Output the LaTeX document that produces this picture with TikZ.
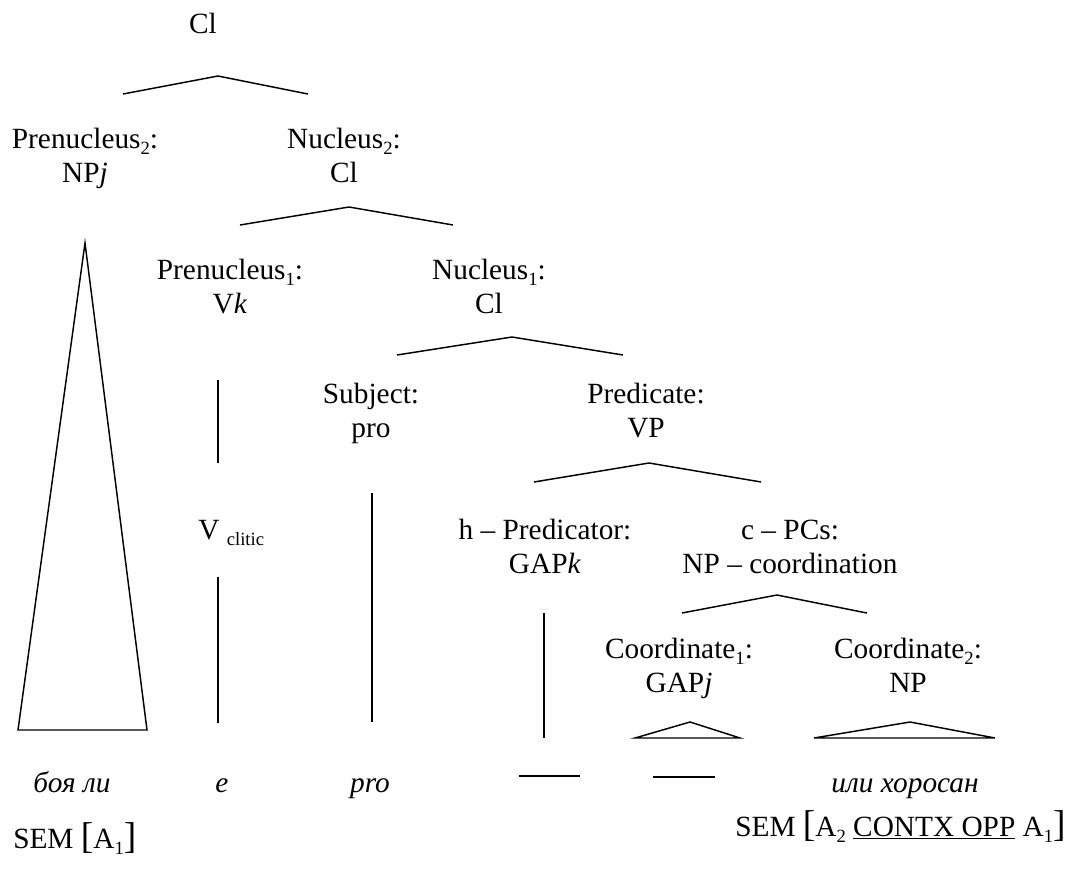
\documentclass[tikz,border=0pt]{standalone}
\usepackage{fontspec}
\setmainfont{Liberation Serif}
\newcommand\lsub[1]{\raisebox{-0.22em}{\fontsize{14}{14}\selectfont #1}}
\newcommand\bigbr[1]{{\fontsize{28}{28}\selectfont #1}}
\begin{document}
\begin{tikzpicture}[x=0.75pt,y=-0.75pt,
  lbl/.style={anchor=base,inner sep=0pt,font=\fontsize{22}{26}\selectfont},
  word/.style={lbl,font=\fontsize{22}{26}\selectfont\itshape},
  edge/.style={line width=1.1pt,line join=miter}]
\useasboundingbox (0,0) rectangle (1072,879);

% labels
\node[lbl] (cl0) at (203,33) {Cl};
\node[lbl] (pn2) at (85,148) {Prenucleus\lsub{2}:};
\node[lbl] (pn2c) at (85,182) {NP\textit{j}};
\node[lbl] (nu2) at (344,148) {Nucleus\lsub{2}:};
\node[lbl] (nu2c) at (344,182) {Cl};
\node[lbl] (pn1) at (230,279) {Prenucleus\lsub{1}:};
\node[lbl] (pn1c) at (230,313) {V\textit{k}};
\node[lbl] (nu1) at (489,279) {Nucleus\lsub{1}:};
\node[lbl] (nu1c) at (489,313) {Cl};
\node[lbl] (subj) at (371,403) {Subject:};
\node[lbl] (subjc) at (371,437) {pro};
\node[lbl] (pred) at (646,403) {Predicate:};
\node[lbl] (predc) at (646,437) {VP};
\node[lbl,anchor=base west] (vcl) at (198,539) {V \lsub{clitic}};
\node[lbl] (hpr) at (545,539) {h -- Predicator:};
\node[lbl] (hprc) at (545,573) {GAP\textit{k}};
\node[lbl] (cpc) at (790,539) {c -- PCs:};
\node[lbl] (cpcc) at (790,573) {NP -- coordination};
\node[lbl] (co1) at (679,658) {Coordinate\lsub{1}:};
\node[lbl] (co1c) at (679,692) {GAP\textit{j}};
\node[lbl] (co2) at (908,658) {Coordinate\lsub{2}:};
\node[lbl] (co2c) at (908,692) {NP};

% words
\node[word] (w1) at (72,792) {боя ли};
\node[word] (w2) at (222,792) {e};
\node[word] (w3) at (370,792) {pro};
\node[word] (w4) at (905,792) {или хоросан};

% semantics
\node[lbl,anchor=base west] (sem1) at (13,848) {SEM \bigbr{[}A\lsub{1}\bigbr{]}};
\node[lbl,anchor=base west] (sem2) at (735,836) {SEM \bigbr{[}A\lsub{2} \underline{CONTX OPP} A\lsub{1}\bigbr{]}};

% branch coordinates
\coordinate (a1l) at (123,94);  \coordinate (a1) at (218,76);  \coordinate (a1r) at (308,94);
\coordinate (a2l) at (240,225); \coordinate (a2) at (349,207); \coordinate (a2r) at (453,225);
\coordinate (a3l) at (397,355); \coordinate (a3) at (512,337); \coordinate (a3r) at (623,355);
\coordinate (a4l) at (534,482); \coordinate (a4) at (649,463); \coordinate (a4r) at (761,482);
\coordinate (a5l) at (682,613); \coordinate (a5) at (777,595); \coordinate (a5r) at (867,613);
\draw[edge] (a1l) -- (a1) -- (a1r);
\draw[edge] (a2l) -- (a2) -- (a2r);
\draw[edge] (a3l) -- (a3) -- (a3r);
\draw[edge] (a4l) -- (a4) -- (a4r);
\draw[edge] (a5l) -- (a5) -- (a5r);

% triangles
\coordinate (t1) at (85,243); \coordinate (t1l) at (18,730); \coordinate (t1r) at (147,730);
\coordinate (t2) at (690,722); \coordinate (t2l) at (635,738); \coordinate (t2r) at (740,738);
\coordinate (t3) at (910,722); \coordinate (t3l) at (814,738); \coordinate (t3r) at (995,738);
\draw[edge] (t1) -- (t1l) -- (t1r) -- cycle;
\draw[edge] (t2) -- (t2l) -- (t2r) -- cycle;
\draw[edge] (t3) -- (t3l) -- (t3r) -- cycle;

% vertical lines
\coordinate (v1a) at (218,380); \coordinate (v1b) at (218,463);
\coordinate (v2a) at (218,577); \coordinate (v2b) at (218,723);
\coordinate (v3a) at (372,493); \coordinate (v3b) at (372,722);
\coordinate (v4a) at (544,613); \coordinate (v4b) at (544,738);
\draw[edge] (v1a) -- (v1b);
\draw[edge] (v2a) -- (v2b);
\draw[edge] (v3a) -- (v3b);
\draw[edge] (v4a) -- (v4b);

% gap bars
\coordinate (g1a) at (519,776); \coordinate (g1b) at (580,776);
\coordinate (g2a) at (653,777); \coordinate (g2b) at (715,777);
\draw[edge] (g1a) -- (g1b);
\draw[edge] (g2a) -- (g2b);
\end{tikzpicture}
\end{document}
